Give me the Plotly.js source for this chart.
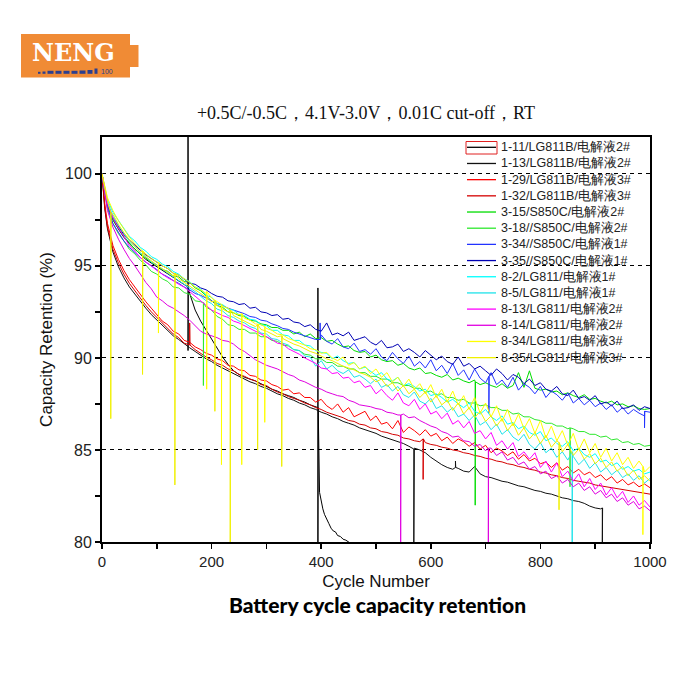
<!DOCTYPE html>
<html><head><meta charset="utf-8">
<script src="https://cdn.plot.ly/plotly-3.0.1.min.js"></script>
<style>html,body{margin:0;padding:0;background:#fff}</style>
</head><body><div id="chart" style="width:684px;height:684px"></div>
<script>
// ---------- data ----------
const cycles = [0,5,10,20,30,40,50,60,70,80,
 90,100,110,120,130,140,150,160,170,180,
 190,200,210,220,230,240,250,260,270,280,
 290,300,310,320,330,340,350,360,370,380,
 390,400,410,420,430,440,450,460,470,480,
 490,500,510,520,530,540,550,560,570,580,
 590,600,610,620,630,640,650,660,670,680,
 690,700,710,720,730,740,750,760,770,780,
 790,800,810,820,830,840,850,860,870,880,
 890,900,910,920,930,940,950,960,970,980,
 990,1000];

const seriesNames = ["1-11/LG811B/电解液2#","1-13/LG811B/电解液2#","1-29/LG811B/电解液3#","1-32/LG811B/电解液3#",
 "3-15/S850C/电解液2#","3-18//S850C/电解液2#","3-34//S850C/电解液1#","3-35//S850C/电解液1#",
 "8-2/LG811/电解液1#","8-5/LG811/电解液1#","8-13/LG811/电解液2#","8-14/LG811/电解液2#",
 "8-34/LG811/电解液3#","8-35/LG811/电解液3#"];
const seriesColors = ["#000000","#111111","#ff0000","#d40000","#00dd00","#2ee82e","#2233ff","#0000b4",
 "#00ffff","#1fe3ea","#ff00ff","#e000e0","#ffff00","#f0f000"];

const s1_11 = [100,99.0,98.3,97.5,97.0,96.55,96.2,95.9,95.6,95.35,
 95.15,94.95,94.75,94.55,94.35,94.15,93.95,93.5,92.6,92.0,
 91.5,91.0,90.5,90.05,89.65,89.3,89.1,88.95,88.85,88.75,
 88.6,88.45,88.3,88.2,88.05,87.95,87.85,87.7,87.6,87.45,
 87.35];
const s1_11_spikes = [[157,93.85,103,90.4],[394,87.3,93.8,79.5]];
const s1_11_tailCycles = [397,400,403,406,410,414,418,422,426,430,435,440,445,450,455];
const s1_11_tailValues = [82.7,82.2,81.8,81.5,81.2,81.0,80.75,80.6,80.55,80.35,80.3,80.15,80.1,80.0,79.9];

const s1_13 = [100,98.1,97.0,95.75,94.95,94.35,93.85,93.45,93.05,92.7,
 92.35,92.05,91.75,91.5,91.2,91.0,90.75,90.55,90.35,90.15,
 89.95,89.8,89.6,89.45,89.3,89.15,89.0,88.85,88.7,88.6,
 88.45,88.35,88.2,88.05,87.95,87.8,87.7,87.55,87.45,87.3,
 87.2,87.05,86.95,86.8,86.7,86.55,86.45,86.35,86.2,86.1,
 86.0,85.9,85.75,85.65,85.55,85.45,85.35,85.2,85.1,85.0,
 84.85,84.6,84.4,84.2,84.05,83.95,84.0,83.85,83.8,84.1,
 83.7,83.55,83.5,83.4,83.3,83.25,83.15,83.05,83.0,82.9,
 82.8,82.75,82.65,82.6,82.5,82.4,82.35,82.25,82.2,82.1,
 81.95,81.85,81.8];
const s1_13_spikes = [[569,85.05,79.5],[645,84.05,84.4],[913,81.85,79.5]];

const s1_29 = [100,98.4,97.3,96.1,95.35,94.75,94.25,93.85,93.4,93.05,
 92.7,92.35,92.0,91.8,91.45,91.3,90.95,90.85,90.6,90.45,
 90.25,90.15,89.95,89.85,89.6,89.55,89.35,89.3,89.05,89.0,
 88.8,88.75,88.55,88.45,88.25,88.3,88.05,88.1,87.85,87.85,
 87.6,87.75,87.4,87.2,87.5,87.05,87.3,86.8,86.95,87.1,
 86.6,86.85,86.4,86.5,86.15,86.6,85.95,86.25,86.05,85.8,
 86.1,85.75,85.9,85.5,85.7,85.35,85.6,85.45,85.2,85.4,
 85.05,85.25,84.85,85.1,84.95,84.7,84.9,84.5,84.75,84.4,
 84.55,84.25,84.35,84.05,84.3,83.9,84.1,83.75,83.95,83.65,
 83.8,83.5,83.65,83.35,83.55,83.2,83.4,83.1,83.25,83.0,
 83.15,82.95];
const s1_29_spikes = [];

const s1_32 = [100,98.2,97.1,95.9,95.15,94.55,94.05,93.65,93.2,92.85,
 92.5,92.2,91.85,91.6,91.3,91.1,90.8,90.7,90.45,90.25,
 90.05,89.9,89.7,89.6,89.4,89.3,89.1,89.0,88.85,88.75,
 88.55,88.5,88.3,88.15,88.05,87.9,87.8,87.7,87.55,87.45,
 87.3,87.2,87.05,86.95,86.85,86.75,86.6,86.55,86.4,86.35,
 86.2,86.15,86.0,85.95,85.85,85.8,85.65,85.6,85.5,85.45,
 85.4,85.3,85.25,85.15,85.1,85.0,84.95,84.85,84.8,84.7,
 84.65,84.55,84.5,84.4,84.35,84.25,84.2,84.1,84.05,83.95,
 83.9,83.8,83.75,83.65,83.6,83.5,83.45,83.35,83.3,83.25,
 83.2,83.1,83.05,83.0,82.95,82.9,82.85,82.8,82.75,82.7,
 82.65,82.6];
const s1_32_spikes = [[160,90.7,91.9],[586,85.6,83.4]];

const s3_15 = [100,99.0,98.3,97.5,97.05,96.6,96.25,95.9,95.65,95.4,
 95.2,95.05,94.8,94.7,94.45,94.4,94.15,94.1,93.8,93.65,
 93.35,93.1,92.85,92.75,92.5,92.45,92.3,92.25,92.05,92.0,
 91.85,91.8,91.65,91.65,91.5,91.5,91.3,91.4,91.15,91.3,
 91.05,91.1,90.9,90.95,90.75,90.6,90.65,90.4,90.3,90.35,
 90.05,90.15,89.9,89.8,89.85,89.6,89.7,89.45,89.35,89.45,
 89.15,89.2,89.05,88.95,89.1,88.8,88.9,88.75,88.65,88.8,
 88.55,88.65,88.5,88.4,88.6,88.35,88.5,89.2,88.4,89.3,
 88.35,88.25,88.3,88.15,88.2,88.0,88.1,87.95,87.85,88.0,
 87.75,87.8,87.65,87.55,87.65,87.45,87.5,87.35,87.4,87.25,
 87.2,87.25];
const s3_15_spikes = [[681,88.7,82.0]];

const s3_18 = [100,98.9,98.1,97.3,96.75,96.35,95.9,95.65,95.3,95.05,
 94.7,94.55,94.3,94.15,93.85,93.8,93.55,93.45,93.1,93.05,
 92.75,92.6,92.25,92.1,91.8,91.75,91.55,91.55,91.35,91.35,
 91.15,91.15,90.95,90.9,90.7,90.65,90.45,90.4,90.2,90.15,
 89.95,89.95,89.75,89.75,89.55,89.55,89.4,89.4,89.2,89.2,
 89.0,89.0,88.85,88.85,88.65,88.65,88.5,88.5,88.35,88.35,
 88.15,88.2,88.0,88.05,87.85,87.85,87.7,87.75,87.55,87.55,
 87.4,87.45,87.3,87.3,87.15,87.15,86.95,87.0,86.8,86.8,
 86.65,86.6,86.45,86.45,86.3,86.3,86.15,86.15,86.0,86.0,
 85.85,85.85,85.7,85.75,85.55,85.6,85.4,85.45,85.3,85.35,
 85.2,85.25];
const s3_18_spikes = [[185,93.0,88.5],[854,86.2,83.0]];

const s3_34 = [100,99.0,98.2,97.3,96.8,96.35,96.0,95.7,95.45,95.2,
 95.0,94.8,94.55,94.4,94.2,94.05,93.85,93.7,93.5,93.4,
 93.25,93.1,92.95,92.85,92.7,92.6,92.5,92.4,92.25,92.2,
 92.05,92.0,91.85,91.75,91.6,91.55,91.4,91.3,91.2,91.1,
 91.0,91.25,90.9,90.75,91.05,90.6,90.5,90.8,90.35,90.45,
 90.2,90.5,90.05,89.85,90.3,89.95,89.7,90.1,89.55,89.8,
 89.45,89.9,89.3,89.6,89.15,89.7,89.05,89.35,88.8,89.4,
 88.9,88.65,89.2,88.55,88.8,88.4,88.95,88.25,88.6,88.4,
 88.05,88.45,87.85,88.2,88.0,87.7,88.1,87.55,87.8,87.45,
 87.7,87.35,87.55,87.2,87.45,87.05,87.3,86.95,87.2,87.0,
 86.85,87.05];
const s3_34_spikes = [[398,91.0,91.9],[706,89.0,87.0],[990,87.1,86.2]];

const s3_35 = [100,99.1,98.4,97.6,97.15,96.7,96.4,96.1,95.85,95.6,
 95.4,95.2,95.0,94.85,94.6,94.5,94.25,94.05,94.0,93.8,
 93.7,93.5,93.35,93.3,93.1,93.05,92.9,92.95,92.7,92.75,
 92.5,92.45,92.3,92.35,92.1,92.15,91.95,91.9,91.7,91.8,
 91.55,91.45,91.9,91.25,91.35,91.2,91.4,90.95,91.05,91.15,
 90.85,90.7,90.95,90.55,90.6,90.75,90.35,90.5,90.3,90.05,
 90.4,90.15,89.9,90.1,89.8,89.65,90.05,89.55,89.7,89.4,
 89.55,89.3,89.05,89.4,89.15,88.8,89.1,88.95,88.6,88.85,
 88.5,88.65,88.3,88.2,88.45,88.05,87.95,88.25,87.8,87.9,
 87.7,87.95,87.5,87.6,87.4,87.65,87.25,87.3,87.45,87.15,
 87.35,87.25];
const s3_35_spikes = [];

const s8_2 = [100,99.2,98.6,97.9,97.45,97.0,96.6,96.35,96.0,95.8,
 95.5,95.35,95.1,94.95,94.7,94.55,94.3,94.15,93.85,93.75,
 93.4,93.3,92.95,92.9,92.65,92.6,92.35,92.3,92.1,92.05,
 91.8,91.75,91.5,91.5,91.25,91.2,90.95,90.95,90.7,90.65,
 90.4,90.3,90.25,89.95,90.1,89.85,89.7,89.75,89.4,89.5,
 89.25,89.05,89.2,88.85,88.75,88.95,88.5,88.6,88.45,88.2,
 88.3,87.95,88.05,87.85,87.6,87.75,87.5,87.3,87.55,87.1,
 86.95,87.2,86.8,86.6,86.85,86.4,86.5,86.15,86.3,85.95,
 85.8,86.0,85.5,85.65,85.35,85.2,85.45,84.95,85.1,84.75,
 84.6,84.8,84.35,84.45,84.15,84.3,83.95,84.1,83.85,83.95,
 83.7,83.8];
const s8_2_spikes = [];

const s8_5 = [100,99.1,98.45,97.7,97.2,96.75,96.35,96.05,95.7,95.5,
 95.2,95.05,94.8,94.6,94.4,94.2,94.0,93.8,93.6,93.35,
 93.1,92.95,92.65,92.55,92.3,92.2,92.0,91.9,91.7,91.6,
 91.35,91.3,91.05,91.0,90.8,90.7,90.45,90.4,90.1,90.05,
 89.55,89.85,89.4,89.6,89.3,89.15,89.35,88.95,89.05,88.85,
 88.6,88.85,88.4,88.55,88.2,88.45,88.0,87.85,88.15,87.65,
 87.5,87.8,87.25,87.4,87.05,87.3,86.8,86.95,86.6,86.9,
 86.35,86.55,86.1,86.4,85.85,86.1,85.7,85.5,85.85,85.3,
 85.05,85.4,84.85,85.1,84.6,84.9,84.45,84.65,84.2,84.5,
 84.0,84.3,83.8,84.05,83.65,83.9,83.5,83.7,83.35,83.6,
 83.2,83.45];
const s8_5_spikes = [[858,84.9,79.5]];

const s8_13 = [100,99.1,98.4,97.6,97.05,96.6,96.1,95.8,95.45,95.2,
 95.0,94.75,94.55,94.35,94.2,94.0,93.85,93.6,93.35,93.1,
 92.85,92.6,92.45,92.3,92.2,92.0,91.9,91.75,91.6,91.45,
 91.3,91.15,91.0,90.8,90.75,90.5,90.35,90.2,90.0,89.85,
 89.7,89.45,89.4,89.15,89.2,88.9,88.95,88.65,88.75,88.4,
 88.5,88.05,88.3,87.95,87.7,88.1,87.55,87.4,87.75,87.2,
 87.5,86.95,87.1,86.7,87.0,86.4,86.6,86.2,86.55,85.9,
 86.05,85.6,85.95,85.25,85.5,85.05,85.4,84.65,84.9,84.5,
 84.85,84.05,84.4,83.8,84.3,83.55,83.85,83.3,83.7,83.0,
 83.45,82.85,83.2,82.55,82.95,82.4,82.75,82.15,82.5,82.0,
 82.25,81.9];
const s8_13_spikes = [];

const s8_14 = [100,98.9,98.0,97.1,96.45,95.9,95.4,95.0,94.55,94.1,
 93.75,93.3,93.1,92.85,92.7,92.5,92.3,92.05,91.75,91.45,
 91.3,91.2,91.1,90.95,90.9,90.75,90.5,90.35,90.1,89.9,
 89.75,89.6,89.5,89.4,89.25,89.1,89.0,88.8,88.7,88.55,
 88.4,88.3,88.15,88.05,87.95,87.9,87.7,87.6,87.45,87.4,
 87.35,87.25,87.2,87.05,87.0,86.9,86.95,86.75,86.8,86.6,
 86.45,86.3,86.2,86.0,85.9,85.7,85.75,85.5,85.45,85.2,
 85.3,84.95,85.1,84.7,84.9,84.45,84.6,84.2,84.35,83.95,
 84.1,83.7,83.85,83.45,83.6,83.2,83.4,83.0,83.2,82.8,
 83.0,82.6,82.8,82.4,82.6,82.2,82.4,82.0,82.2,81.8,
 81.95,81.7];
const s8_14_spikes = [[545,86.9,79.5],[705,85.1,79.5]];

const s8_34 = [100,99.3,98.7,98.0,97.45,97.0,96.55,96.2,95.9,95.65,
 95.4,95.2,95.0,94.85,94.6,94.5,94.3,94.1,93.85,93.7,
 93.5,93.25,93.05,92.8,92.7,92.45,92.35,92.15,92.05,91.85,
 91.8,91.6,91.5,91.3,91.25,91.05,90.95,90.8,90.7,90.5,
 90.45,90.25,90.3,90.0,89.85,90.05,89.6,89.75,89.4,89.55,
 89.15,89.4,88.95,89.2,88.7,88.95,88.45,88.85,88.3,88.6,
 88.05,88.55,87.85,88.3,87.6,88.2,87.45,87.95,87.2,87.85,
 87.0,87.55,86.8,87.4,86.55,87.2,86.3,86.95,86.15,86.7,
 85.9,86.6,85.65,86.3,85.5,86.05,85.25,85.9,85.0,85.6,
 84.85,85.35,84.6,85.1,84.4,84.85,84.2,84.6,84.0,84.4,
 83.8,84.1];
const s8_34_spikes = [[103,95.2,91.35],[191,93.6,88.3],[218,92.9,84.2],[255,92.4,84.2],[297,91.7,86.5],[987,84.1,80.4]];

const s8_35 = [100,99.2,98.5,97.8,97.25,96.8,96.4,96.05,95.75,95.5,
 95.25,95.05,94.85,94.65,94.45,94.3,94.1,93.9,93.7,93.5,
 93.3,93.05,92.85,92.65,92.5,92.3,92.15,92.0,91.85,91.7,
 91.55,91.45,91.3,91.15,91.05,90.9,90.75,90.65,90.5,90.35,
 90.25,90.1,89.95,89.85,89.7,89.55,89.45,89.35,89.2,89.1,
 88.95,88.7,88.85,88.45,88.65,88.2,88.5,88.05,88.3,87.85,
 88.15,87.6,87.95,87.45,87.7,87.15,87.55,86.95,87.3,86.75,
 87.1,86.55,86.85,86.3,86.7,86.05,86.45,85.8,86.2,85.6,
 85.95,85.35,85.8,85.15,85.5,84.9,85.3,84.7,85.05,84.5,
 84.8,84.25,84.55,84.05,84.35,83.85,84.1,83.6,83.9,83.4,
 83.6,83.3];
const s8_35_spikes = [[16,97.9,86.7],[74,95.8,89.1],[133,94.6,83.1],[206,93.1,87.1],[234,92.6,79.5],[284,91.8,85.0],[328,91.2,84.1],[834,85.4,81.75]];

const seriesValues = [s1_11,s1_13,s1_29,s1_32,s3_15,s3_18,s3_34,s3_35,s8_2,s8_5,s8_13,s8_14,s8_34,s8_35];
const seriesSpikes = [s1_11_spikes,s1_13_spikes,s1_29_spikes,s1_32_spikes,s3_15_spikes,s3_18_spikes,s3_34_spikes,s3_35_spikes,
 s8_2_spikes,s8_5_spikes,s8_13_spikes,s8_14_spikes,s8_34_spikes,s8_35_spikes];

const titleText = "+0.5C/-0.5C，4.1V-3.0V，0.01C cut-off，RT";
const captionText = "Battery cycle capacity retention";

// ---------- build ----------
function buildSeries(vals, spikes, tailX, tailY) {
  const pts = [];
  cycles.forEach((c, i) => { if (vals[i] != null) pts.push([c, vals[i]]); });
  spikes.forEach(s => {
    const c = s[0], base = s[1];
    pts.push([c, base]);
    for (let j = 2; j < s.length; j++) pts.push([c, s[j]]);
    pts.push([c + 0.5, base]);
  });
  if (tailX) tailX.forEach((c, i) => pts.push([c, tailY[i]]));
  pts.sort((a, b) => a[0] - b[0]);
  return { x: pts.map(p => p[0]), y: pts.map(p => p[1]) };
}

const traces = seriesValues.map((vals, k) => {
  const d = k === 0 ? buildSeries(vals, seriesSpikes[k], s1_11_tailCycles, s1_11_tailValues)
                    : buildSeries(vals, seriesSpikes[k]);
  return { type: 'scatter', mode: 'lines', name: seriesNames[k], x: d.x, y: d.y,
           line: { color: seriesColors[k], width: 1 }, hoverinfo: 'skip' };
});

// plot-area geometry (px) for decorations
const PL = 102, PR = 650, PT = 137, PB = 542;
const px2x = px => (px - PL) / (PR - PL);
const py2y = py => (PB - py) / (PB - PT);

const shapes = [];
const annotations = [];

// custom legend
const legTop = 147.3, legStep = 16.18;
seriesNames.forEach((nm, k) => {
  const yy = legTop + legStep * k;
  shapes.push({ type: 'line', xref: 'paper', yref: 'paper', x0: px2x(467), x1: px2x(496), y0: py2y(yy), y1: py2y(yy),
                line: { color: seriesColors[k], width: 1.3 } });
  annotations.push({ xref: 'paper', yref: 'paper', x: px2x(499), y: py2y(yy), xanchor: 'left', yanchor: 'middle',
                     text: nm, showarrow: false, font: { family: 'Liberation Sans, Arial, sans-serif', size: 12.5, color: '#222' } });
});
shapes.push({ type: 'rect', xref: 'paper', yref: 'paper', x0: px2x(466), x1: px2x(497), y0: py2y(154), y1: py2y(141.5),
              line: { color: '#e02020', width: 1 }, fillcolor: 'rgba(0,0,0,0)' });

// logo
shapes.push({ type: 'rect', xref: 'paper', yref: 'paper', x0: px2x(21), x1: px2x(130), y0: py2y(77.5), y1: py2y(34),
              fillcolor: '#f08b35', line: { width: 0 } });
shapes.push({ type: 'rect', xref: 'paper', yref: 'paper', x0: px2x(130), x1: px2x(138.5), y0: py2y(67), y1: py2y(45),
              fillcolor: '#f08b35', line: { width: 0 } });
const dashes = [[38,40.5,71.8],[42.5,45.5,71.5],[47.5,53.5,70.8],[55.5,61.5,70.8],[63.5,69.5,70.8],[71.5,77.5,70.8],[79.5,85.5,70.5],[87.5,92.5,70],[94.5,97.5,68.5]];
dashes.forEach(d => shapes.push({ type: 'rect', xref: 'paper', yref: 'paper', x0: px2x(d[0]), x1: px2x(d[1]), y0: py2y(73.8), y1: py2y(d[2]),
  fillcolor: '#2c3f8f', line: { width: 0 } }));
annotations.push({ xref: 'paper', yref: 'paper', x: px2x(73), y: py2y(52.5), xanchor: 'center', yanchor: 'middle', showarrow: false,
  text: 'NENG', font: { family: 'DejaVu Serif, serif', size: 24, weight: 'bold', color: '#ffffff' } });
annotations.push({ xref: 'paper', yref: 'paper', x: px2x(98.5), y: py2y(71.5), xanchor: 'left', yanchor: 'middle', showarrow: false,
  text: '100', font: { family: 'Liberation Sans, Arial, sans-serif', size: 7, color: '#2c3f8f' } });

// caption
annotations.push({ xref: 'paper', yref: 'paper', x: px2x(377), y: py2y(604), xanchor: 'center', yanchor: 'middle', showarrow: false,
  text: captionText, font: { family: 'Lato, sans-serif', size: 21, weight: 900, color: '#000' } });

const layout = {
  width: 684, height: 684,
  margin: { l: PL, r: 684 - PR, t: PT, b: 684 - PB, pad: 0 },
  paper_bgcolor: '#fff', plot_bgcolor: '#fff',
  showlegend: false,
  font: { family: 'Liberation Sans, Arial, sans-serif', color: '#222' },
  title: { text: titleText, font: { family: 'Liberation Serif, Times New Roman, serif', size: 18, color: '#111' },
           x: 366 / 684, xref: 'container', xanchor: 'center', y: 1 - 113 / 684, yref: 'container', yanchor: 'middle' },
  xaxis: { range: [0, 1000], tickmode: 'linear', tick0: 0, dtick: 200, ticks: 'outside', ticklen: 5, tickwidth: 1.5, tickcolor: '#000',
           showline: true, linecolor: '#000', linewidth: 2, mirror: true, showgrid: false, zeroline: false,
           tickfont: { size: 15, color: '#222' },
           minor: { dtick: 100, ticks: 'outside', ticklen: 5, tickwidth: 1.5, tickcolor: '#000', showgrid: false },
           title: { text: 'Cycle Number', font: { size: 17, color: '#111' }, standoff: 6 } },
  yaxis: { range: [80, 102], tickmode: 'linear', tick0: 80, dtick: 5, ticks: 'outside', ticklen: 5, tickwidth: 1.5, tickcolor: '#000',
           showline: true, linecolor: '#000', linewidth: 2, mirror: true, zeroline: false,
           showgrid: true, gridcolor: '#000', gridwidth: 1, griddash: '4px,4px',
           tickfont: { size: 16, color: '#222' },
           minor: { dtick: 2.5, ticks: 'outside', ticklen: 5, tickwidth: 1.5, tickcolor: '#000', showgrid: false },
           title: { text: 'Capacity Retention (%)', font: { size: 17, color: '#111' }, standoff: 8 } },
  shapes: shapes,
  annotations: annotations
};

Plotly.newPlot('chart', traces, layout, { staticPlot: true, displayModeBar: false });
</script></body></html>
